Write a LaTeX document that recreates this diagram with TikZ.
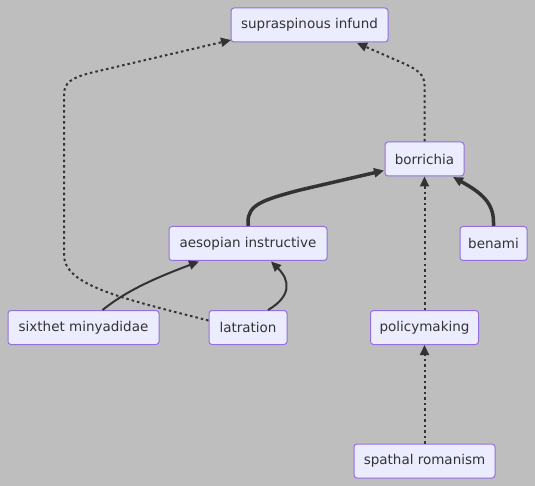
\documentclass[tikz,border=0pt]{standalone}
\usepackage{fontspec}
\setmainfont{DejaVu Sans}
\usetikzlibrary{arrows.meta}
\definecolor{bg}{HTML}{BEBEBE}
\definecolor{nodefill}{HTML}{ECECFF}
\definecolor{nodeborder}{HTML}{9370DB}
\definecolor{edgecol}{HTML}{333333}
\tikzset{
  box/.style={draw=nodeborder, fill=nodefill, line width=1pt, rounded corners=3pt,
    minimum height=34pt, inner sep=0pt, text=edgecol,
    font=\fontsize{13.5pt}{16pt}\selectfont},
  tip/.style={-{Triangle[length=10pt,width=9pt]}},
  normal/.style={draw=edgecol, line width=2pt, tip},
  thick edge/.style={draw=edgecol, line width=3.5pt, tip},
  dotted edge/.style={draw=edgecol, line width=2pt, dash pattern=on 2.5pt off 3pt, tip},
}
\begin{document}
\begin{tikzpicture}[x=1pt,y=-1pt]
\fill[bg] (0,0) rectangle (535,486);
\useasboundingbox (0,0) rectangle (535,486);

\node[box, minimum width=157pt] (sup) at (309.5,25) {supraspinous infund};
\node[box, minimum width=79pt] (bor) at (424.5,159) {borrichia};
\node[box, minimum width=158pt] (aes) at (248,243.5) {aesopian instructive};
\node[box, minimum width=67pt] (ben) at (493.5,243.5) {benami};
\node[box, minimum width=151pt] (six) at (83.5,327.5) {sixthet minyadidae};
\node[box, minimum width=78pt] (lat) at (248,327.5) {latration};
\node[box, minimum width=108pt] (pol) at (424.5,327.5) {policymaking};
\node[box, minimum width=141pt] (spa) at (424.5,461) {spathal romanism};

\coordinate (supL) at (231,40);
\coordinate (supR) at (357,43);
\coordinate (borL) at (384,170.5);
\coordinate (borR) at (453,177);
\coordinate (aesL) at (199,261.5);
\coordinate (aesR) at (271,261.5);

% latration -> supraspinous (dotted)
\draw[dotted edge] ([yshift=7pt]lat.west) .. controls (120,298) and (64,285) .. (64,255)
  -- (64,95) .. controls (64,82) and (72,78) .. (90,73) -- (supL);
% borrichia -> supraspinous (dotted)
\draw[dotted edge] (bor.north) -- (424.5,85) .. controls (424.5,75) and (418,70) .. (405,64) -- (supR);
% aesopian -> borrichia (thick)
\draw[thick edge] (aes.north) -- (248,222) .. controls (248,205) and (262,200) .. (300,190) -- (borL);
% benami -> borrichia (thick)
\draw[thick edge] (ben.north) -- (493.5,222) .. controls (493.5,202) and (480,192) .. (borR);
% sixthet -> aesopian
\draw[normal] ([xshift=19pt]six.north) .. controls (125,292) and (150,280) .. (aesL);
% latration -> aesopian
\draw[normal] ([xshift=20pt]lat.north) .. controls (292,296) and (290,280) .. (aesR);
% policymaking -> borrichia
\draw[dotted edge] (pol.north) -- (bor.south);
% spathal -> policymaking
\draw[dotted edge] (spa.north) -- (pol.south);
\end{tikzpicture}
\end{document}
